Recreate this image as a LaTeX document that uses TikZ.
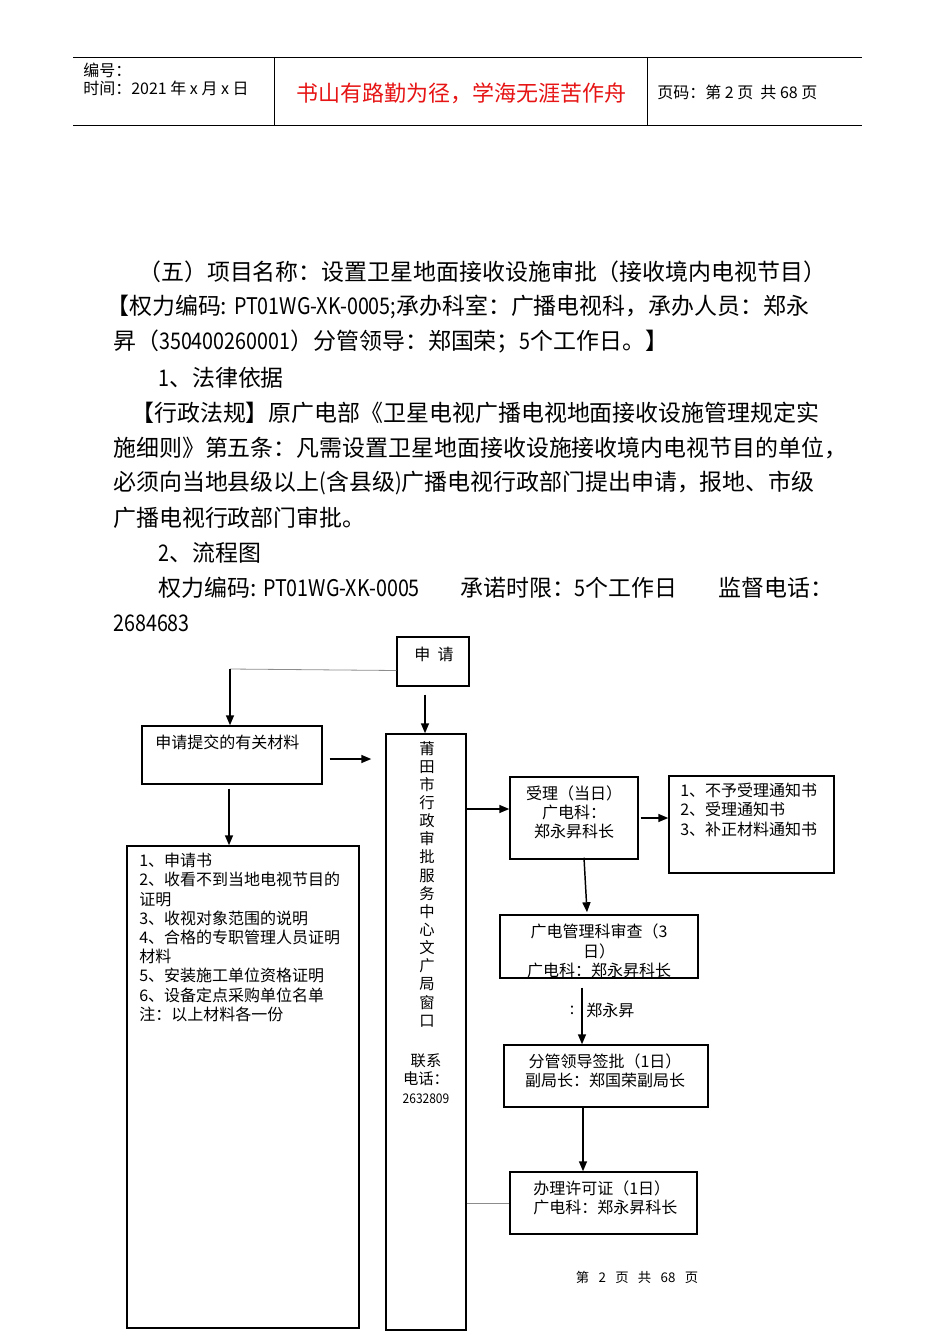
\documentclass[tikz,border=0pt]{standalone}
\usepackage{fontspec}
\setmainfont{Liberation Serif}
\newfontfamily\cjk{Noto Sans CJK SC}
\usetikzlibrary{arrows.meta,calc,fit}
\definecolor{hdrred}{RGB}{230,20,20}
\newcommand{\lat}[1]{\scalebox{0.86}[1]{#1}}
\begin{document}
\begin{tikzpicture}[x=0.75pt,y=-0.75pt,
  frame/.style={draw, line width=1.1pt, inner sep=0pt},
  arr/.style={-{Triangle[length=7.5pt,width=6pt]}, line width=1.1pt},
  thinline/.style={draw=black!45, line width=0.6pt},
  hdr/.style={font=\cjk\fontsize{12}{14}\selectfont, inner sep=0pt},
  body/.style={font=\cjk\fontsize{17.2}{20}\selectfont, anchor=west, inner sep=0pt},
  ft/.style={font=\cjk\fontsize{12}{14.4}\selectfont, inner sep=0pt},
]
\useasboundingbox (0,0) rectangle (950,1344);

% ---------- header ----------
\draw[line width=0.7pt] (73,57) -- (862,57);
\draw[line width=0.7pt] (73,125) -- (862,125);
\draw[line width=0.7pt] (274,57) -- (274,125);
\draw[line width=0.7pt] (647,57) -- (647,125);
\node[hdr, anchor=west] (hno) at (83,70) {编号：};
\node[hdr, anchor=west] (htime) at (83,88) {时间：2021 年 x 月 x 日};
\node[font=\cjk\fontsize{16.5}{20}\selectfont, text=hdrred, inner sep=0pt] (hred) at (461,93) {书山有路勤为径，学海无涯苦作舟};
\node[hdr, anchor=west] (hpage) at (657,92) {页码：第 2 页\ \ 共 68 页};

% ---------- body text ----------
\node[body] (l1) at (138,272) {（五）项目名称：设置卫星地面接收设施审批（接收境内电视节目）};
\node[body] (l2) at (106,307) {【权力编码: \lat{PT01WG-XK-0005;}承办科室：广播电视科，承办人员：郑永};
\node[body] (l3) at (113,342) {昇（\lat{350400260001}）分管领导：郑国荣；\lat{5}个工作日。】};
\node[body] (l4) at (158,378) {\lat{1}、法律依据};
\node[body] (l5) at (131,413) {【行政法规】原广电部《卫星电视广播电视地面接收设施管理规定实};
\node[body] (l6) at (113,448) {施细则》第五条：凡需设置卫星地面接收设施接收境内电视节目的单位，};
\node[body] (l7) at (113,483) {必须向当地县级以上\lat{(}含县级\lat{)}广播电视行政部门提出申请，报地、市级};
\node[body] (l8) at (113,518) {广播电视行政部门审批。};
\node[body] (l9) at (158,553) {\lat{2}、流程图};
\node[body] (l10a) at (158,588) {权力编码: \lat{PT01WG-XK-0005}};
\node[body] (l10b) at (460,588) {承诺时限：\lat{5}个工作日};
\node[body] (l10c) at (718,588) {监督电话：};
\node[body] (l11) at (113,623) {\lat{2684683}};

% ---------- flowchart boxes ----------
\node[frame, fit={(397,637) (469,686)}] (sq) {};
\node[ft] (sqt) at (434,654) {申\ \ 请};

\node[frame, fit={(142,726) (322,784)}] (mat) {};
\node[ft, anchor=west] (matt) at (155,742) {申请提交的有关材料};

\node[frame, fit={(127,846) (359,1328)}] (list) {};
\node[ft, anchor=north west, align=left] (listt) at (139,853) {1、申请书\\2、收看不到当地电视节目的\\证明\\3、收视对象范围的说明\\4、合格的专职管理人员证明\\材料\\5、安装施工单位资格证明\\6、设备定点采购单位名单\\注：以上材料各一份};

\node[frame, fit={(386,734) (466,1330)}] (win) {};
\node[ft, anchor=north, align=center, font=\cjk\fontsize{11.5}{13.6}\selectfont] (wint) at (427,741) {莆\\田\\市\\行\\政\\审\\批\\服\\务\\中\\心\\文\\广\\局\\窗\\口};
\node[ft, anchor=north, align=center, font=\cjk\fontsize{11.5}{14}\selectfont] (wtel) at (426,1053) {联系\\电话：\\{\fontsize{10}{12}\selectfont\scalebox{0.9}[1]{2632809}}};

\node[frame, fit={(510,777) (638,859)}] (acc) {};
\node[ft, align=center] (acct) at (574,812) {受理（当日）\\广电科：\\郑永昇科长};

\node[frame, fit={(669,776) (834,873)}] (ntc) {};
\node[ft, anchor=north west, align=left] (ntct) at (680,783) {1、不予受理通知书\\2、受理通知书\\3、补正材料通知书};

\node[frame, fit={(500,915) (698,978)}] (rev) {};
\node[ft, align=center] (revt) at (599,951) {广电管理科审查（3\\日）\\广电科：郑永昇科长};

\node[frame, fit={(504,1045) (708,1107)}] (lead) {};
\node[ft, align=center] (leadt) at (605,1071) {分管领导签批（1日）\\副局长：郑国荣副局长};

\node[frame, fit={(510,1172) (697,1234)}] (lic) {};
\node[ft, anchor=west, align=left] (lict) at (533,1198) {办理许可证（1日）\\广电科：郑永昇科长};

\node[font=\cjk\fontsize{10}{12}\selectfont, inner sep=0pt] (foot) at (637,1277) {第\hspace{0.7em}2\hspace{0.7em}页\hspace{0.7em}共\hspace{0.7em}68\hspace{0.7em}页};

% ---------- connectors ----------
\coordinate (c1) at (230,669);
\draw[thinline] ($(sq.west)+(0,9)$) -- (c1);
\draw[arr] (c1) -- (c1 |- mat.north);
\coordinate (c5) at ($(sq.south)+(-8,8)$);
\draw[arr] (c5) -- (c5 |- win.north);
\coordinate (c6) at ($(mat.east)+(7,4)$);
\draw[arr] (c6) -- ($(c6 -| win.west)+(-14,0)$);
\coordinate (c7) at ($(mat.south)+(-3,4)$);
\draw[arr] (c7) -- (c7 |- list.north);
\coordinate (c2) at ($(acc.west)+(0,-9)$);
\draw[arr] (win.east |- c2) -- (c2);
\draw[arr] ($(acc.east)+(2,0)$) -- (ntc.west |- acc.east);
\draw[arr] ($(acc.south)+(10,-2)$) -- ($(rev.north)+(-12,-2)$);
\coordinate (c3) at ($(rev.south)+(-17,9)$);
\draw[arr] (c3) -- (c3 |- lead.north);
\node[ft, anchor=west] (lbl) at ($(c3)+(4,23)$) {郑永昇};
\node[ft] (lblc) at ($(c3)+(-10,23)$) {:};
\coordinate (c4) at ($(lead.south)+(-23,0)$);
\draw[arr] (c4) -- (c4 |- lic.north);
\draw[thinline] (win.east |- lic.west) -- (lic.west);
\end{tikzpicture}
\end{document}
